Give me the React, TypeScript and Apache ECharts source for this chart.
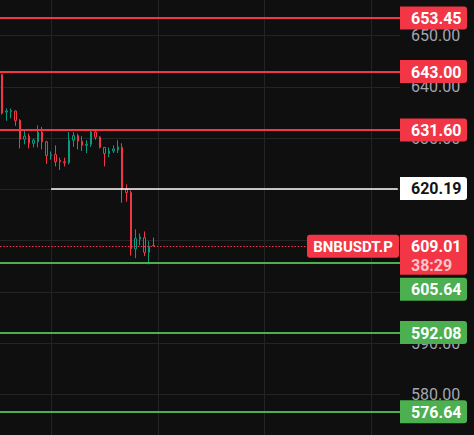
import React, { useEffect, useRef } from 'react';
import * as echarts from 'echarts';

// [open, close, low, high]
const candles: number[][] = [
  [642.4, 634.9, 634.6, 642.6],
  [635.1, 635.3, 633.4, 635.8],
  [635.2, 635.4, 633.9, 635.8],
  [635.3, 633.4, 632.4, 635.4],
  [633.5, 629.8, 628.0, 633.7],
  [629.8, 630.4, 628.8, 631.4],
  [630.4, 629.0, 628.0, 630.9],
  [629.0, 629.6, 628.2, 629.9],
  [629.3, 631.2, 628.2, 632.5],
  [631.2, 629.3, 627.8, 632.2],
  [629.3, 626.6, 625.0, 629.5],
  [626.6, 626.8, 625.8, 627.4],
  [626.8, 625.4, 624.5, 628.6],
  [625.7, 625.4, 623.8, 626.2],
  [625.4, 625.2, 624.5, 626.2],
  [625.2, 629.6, 624.9, 631.2],
  [629.6, 630.5, 628.3, 631.2],
  [630.5, 629.4, 627.8, 630.9],
  [629.4, 628.6, 627.5, 630.4],
  [628.6, 628.8, 627.1, 629.6],
  [628.8, 631.2, 628.3, 631.4],
  [631.2, 630.2, 629.7, 631.5],
  [630.2, 628.2, 628.0, 630.4],
  [628.2, 627.0, 624.5, 628.2],
  [627.0, 627.5, 626.3, 628.2],
  [627.5, 627.9, 627.1, 628.6],
  [627.7, 628.3, 627.1, 629.6],
  [628.2, 620.0, 617.4, 629.0],
  [620.0, 619.4, 617.6, 621.0],
  [619.4, 608.4, 607.1, 619.8],
  [608.4, 610.4, 606.6, 612.2],
  [610.3, 610.7, 609.1, 611.4],
  [610.6, 607.7, 607.0, 611.8],
  [607.7, 608.9, 605.4, 609.9],
  [609.1, 609.01, 608.9, 610.6],
];

const SLOTS = 90;
const categories = Array.from({ length: SLOTS }, (_, i) => String(i));
const priceTicks = [580, 590, 600, 610, 620, 630, 640, 650];
// labels hidden by the price tags (600, 610, 620) are not drawn, as in the reference
const priceTickLabels = [580, 590, 630, 640, 650];
const axisMin = 572.09;
const axisMax = 656.96;
const resistanceLevels = [653.45, 643.0, 631.6];
const supportLevels = [605.64, 592.08, 576.64];
const pivotLevel = 620.19;
const pivotStartSlot = '11';
const lastPrice = 609.01;
const symbolName = 'BNBUSDT.P';
const countdown = '38:29';
const verticalGridSlots = ['11', '35', '59', '83'];

const BG = '#0f0f0f';
const RED = '#F23645';
const CANDLE_GREEN = '#089981';
const LINE_GREEN = '#4CAF50';
const GRID = '#242424';
const FONT = 'Roboto, "Noto Sans", sans-serif';

export default function App() {
  const ref = useRef<HTMLDivElement>(null);
  useEffect(() => {
    document.body.style.margin = '0';
    document.body.style.background = BG;
    const chart = echarts.init(ref.current!, null, { renderer: 'svg' });
    const plotRight = 400;
    const option: any = {
      animation: false,
      backgroundColor: BG,
      grid: { left: 0, right: 474 - plotRight, top: 0, bottom: 0, containLabel: false },
      xAxis: {
        type: 'category',
        data: categories,
        boundaryGap: true,
        axisLine: { show: false },
        axisTick: { show: false },
        axisLabel: { show: false },
        splitLine: { show: false },
      },
      yAxis: {
        type: 'value',
        position: 'right',
        min: axisMin,
        max: axisMax,
        axisLine: { show: false },
        axisTick: { show: false, customValues: priceTicks },
        axisLabel: {
          customValues: priceTickLabels,
          color: '#A3A6AF',
          fontSize: 16,
          fontFamily: FONT,
          margin: 11,
          align: 'left',
          formatter: (v: number) => v.toFixed(2),
        },
        splitLine: { show: false },
      },
      series: [
        {
          type: 'line',
          data: [],
          silent: true,
          markLine: {
            silent: true,
            symbol: 'none',
            z: 1,
            label: { show: false },
            lineStyle: { color: GRID, width: 1, type: 'solid' },
            data: [
              ...verticalGridSlots.map((s) => ({ xAxis: s })),
              ...priceTicks.map((v) => ({ yAxis: v })),
            ],
          },
        },
        {
          type: 'candlestick',
          data: candles,
          barWidth: 2,
          z: 3,
          itemStyle: {
            color: BG,
            color0: BG,
            borderColor: CANDLE_GREEN,
            borderColor0: RED,
            borderWidth: 1,
          },
        },
        {
          type: 'line',
          data: [],
          silent: true,
          z: 5,
          markLine: {
            silent: true,
            symbol: 'none',
            z: 6,
            label: { show: false },
            data: [
              ...resistanceLevels.map((v) => ({ yAxis: v, lineStyle: { color: RED, width: 2, type: 'solid' } })),
              ...supportLevels.map((v) => ({ yAxis: v, lineStyle: { color: LINE_GREEN, width: 2, type: 'solid' } })),
              [
                { coord: [pivotStartSlot, pivotLevel], lineStyle: { color: '#ffffff', width: 1.5, type: 'solid' } },
                { coord: [categories[SLOTS - 1], pivotLevel] },
              ],
              { yAxis: lastPrice, lineStyle: { color: RED, width: 1, type: [1.5, 1.7] } },
            ],
          },
        },
      ],
    };
    chart.setOption(option);

    const py = (v: number) => chart.convertToPixel({ yAxisIndex: 0 }, v) as number;
    const boxW = 67;
    const boxH = 23;
    const textX = plotRight + 11;
    const graphics: any[] = [];
    const addLabel = (v: number, top: number, fill: string, textColor: string) => {
      graphics.push({
        type: 'rect',
        z: 100,
        shape: { x: plotRight, y: top, width: boxW, height: boxH, r: [0, 3, 3, 0] },
        style: { fill },
      });
      graphics.push({
        type: 'text',
        z: 101,
        x: textX,
        y: top + boxH / 2 + 0.5,
        style: {
          text: v.toFixed(2),
          fill: textColor,
          font: `bold 16px ${FONT}`,
          textAlign: 'left',
          textVerticalAlign: 'middle',
        },
      });
    };
    resistanceLevels.forEach((v) => addLabel(v, py(v) - boxH / 2, RED, '#ffffff'));
    addLabel(pivotLevel, py(pivotLevel) - boxH / 2, '#ffffff', '#131313');

    // last price block
    const lastTop = py(lastPrice) - 11;
    const lastH = 40;
    graphics.push({
      type: 'rect',
      z: 100,
      shape: { x: plotRight, y: lastTop, width: boxW, height: lastH, r: [0, 3, 3, 0] },
      style: { fill: RED },
    });
    graphics.push({
      type: 'text',
      z: 101,
      x: textX,
      y: lastTop + 12,
      style: { text: lastPrice.toFixed(2), fill: '#ffffff', font: `bold 16px ${FONT}`, textAlign: 'left', textVerticalAlign: 'middle' },
    });
    graphics.push({
      type: 'text',
      z: 101,
      x: textX,
      y: lastTop + 31,
      style: { text: countdown, fill: 'rgba(255,255,255,0.72)', font: `bold 16px ${FONT}`, textAlign: 'left', textVerticalAlign: 'middle' },
    });
    const symW = 92;
    graphics.push({
      type: 'rect',
      z: 100,
      shape: { x: plotRight - symW - 1, y: lastTop, width: symW, height: boxH, r: 3 },
      style: { fill: RED },
    });
    graphics.push({
      type: 'text',
      z: 101,
      x: plotRight - 1 - symW / 2,
      y: lastTop + boxH / 2 + 0.5,
      style: { text: symbolName, fill: '#ffffff', font: `bold 15px ${FONT}`, textAlign: 'center', textVerticalAlign: 'middle' },
    });

    const lastBottom = lastTop + lastH;
    supportLevels.forEach((v) => {
      const top = Math.max(py(v) - boxH / 2, lastBottom + 3);
      addLabel(v, top, LINE_GREEN, '#ffffff');
    });

    chart.setOption({ graphic: graphics });
    return () => chart.dispose();
  }, []);
  return <div ref={ref} style={{ width: 474, height: 435, background: BG }} />;
}
